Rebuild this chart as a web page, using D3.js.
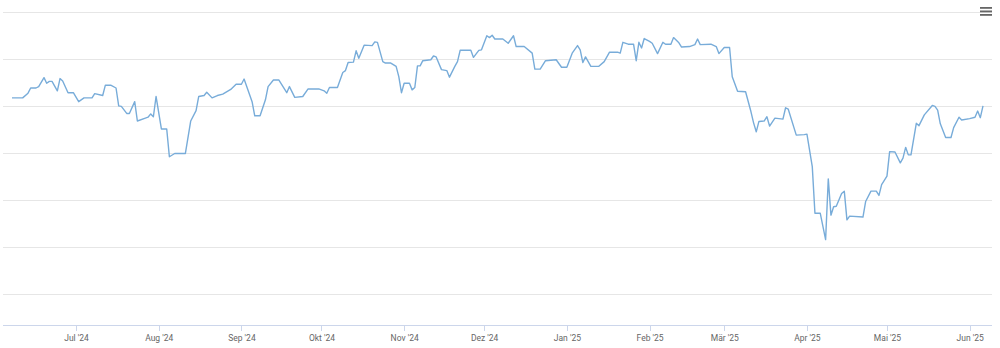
<!DOCTYPE html>
<html>
<head>
<meta charset="utf-8">
<script src="https://cdn.jsdelivr.net/npm/d3@7"></script>
<style>
  html, body { margin: 0; padding: 0; background: #fff; }
  svg { display: block; font-family: Roboto, "Noto Sans", sans-serif; }
</style>
</head>
<body>
<svg id="chart" width="1000" height="348"></svg>
<script>
// ---- data ----
const dates = [
"2024-06-07","2024-06-11","2024-06-13","2024-06-14","2024-06-16","2024-06-17","2024-06-19","2024-06-20","2024-06-21","2024-06-22",
"2024-06-24","2024-06-25","2024-06-26","2024-06-28","2024-06-30","2024-07-02","2024-07-04","2024-07-07","2024-07-08","2024-07-11",
"2024-07-12","2024-07-14","2024-07-16","2024-07-17","2024-07-18","2024-07-20","2024-07-21","2024-07-23","2024-07-24","2024-07-27",
"2024-07-28","2024-07-29","2024-07-30","2024-07-31","2024-08-02","2024-08-04","2024-08-05","2024-08-07","2024-08-11","2024-08-13",
"2024-08-15","2024-08-16","2024-08-18","2024-08-19","2024-08-21","2024-08-23","2024-08-25","2024-08-28","2024-08-30","2024-09-01",
"2024-09-02","2024-09-05","2024-09-06","2024-09-08","2024-09-10","2024-09-11","2024-09-13","2024-09-15","2024-09-18","2024-09-19",
"2024-09-21","2024-09-24","2024-09-26","2024-09-30","2024-10-02","2024-10-03","2024-10-04","2024-10-07","2024-10-09","2024-10-10",
"2024-10-11","2024-10-13","2024-10-14","2024-10-15","2024-10-17","2024-10-20","2024-10-21","2024-10-22","2024-10-24","2024-10-25",
"2024-10-27","2024-10-29","2024-10-30","2024-10-31","2024-11-01","2024-11-03","2024-11-04","2024-11-05","2024-11-06","2024-11-07",
"2024-11-08","2024-11-11","2024-11-12","2024-11-13","2024-11-15","2024-11-17","2024-11-18","2024-11-20","2024-11-21","2024-11-22",
"2024-11-26","2024-11-27","2024-11-29","2024-11-30","2024-12-02","2024-12-03","2024-12-04","2024-12-05","2024-12-08","2024-12-10",
"2024-12-12","2024-12-13","2024-12-16","2024-12-19","2024-12-20","2024-12-22","2024-12-24","2024-12-28","2024-12-30","2025-01-01",
"2025-01-03","2025-01-05","2025-01-06","2025-01-07","2025-01-08","2025-01-10","2025-01-13","2025-01-15","2025-01-17","2025-01-20",
"2025-01-21","2025-01-22","2025-01-24","2025-01-26","2025-01-27","2025-01-28","2025-01-29","2025-01-30","2025-02-01","2025-02-02",
"2025-02-04","2025-02-06","2025-02-07","2025-02-09","2025-02-10","2025-02-12","2025-02-13","2025-02-16","2025-02-18","2025-02-19",
"2025-02-20","2025-02-24","2025-02-26","2025-02-27","2025-03-01","2025-03-03","2025-03-04","2025-03-06","2025-03-09","2025-03-11",
"2025-03-12","2025-03-13","2025-03-14","2025-03-16","2025-03-17","2025-03-18","2025-03-20","2025-03-23","2025-03-24","2025-03-25",
"2025-03-28","2025-03-31","2025-04-01","2025-04-03","2025-04-04","2025-04-06","2025-04-08","2025-04-09","2025-04-10","2025-04-11",
"2025-04-12","2025-04-14","2025-04-15","2025-04-16","2025-04-17","2025-04-22","2025-04-23","2025-04-25","2025-04-27","2025-04-28",
"2025-04-29","2025-05-01","2025-05-02","2025-05-04","2025-05-06","2025-05-07","2025-05-08","2025-05-09","2025-05-10","2025-05-12",
"2025-05-13","2025-05-15","2025-05-18","2025-05-19","2025-05-20","2025-05-21","2025-05-23","2025-05-25","2025-05-26","2025-05-28",
"2025-05-29","2025-06-01","2025-06-03","2025-06-04","2025-06-05","2025-06-06"
];
const values = [
101.7,101.7,102.7,103.8,103.8,104.1,106.0,104.8,105.2,105.2,
103.2,105.8,105.3,102.8,102.8,100.9,101.7,101.7,102.6,102.2,
104.4,104.4,103.8,100.0,99.9,98.4,98.4,100.9,96.8,97.4,
97.6,98.3,97.7,102.0,95.1,95.1,89.2,89.9,89.9,96.8,
99.0,102.0,102.2,102.9,101.7,102.2,102.5,103.5,104.6,104.6,
105.7,100.9,97.9,97.9,101.3,104.1,105.5,105.5,102.8,104.1,
101.8,102.0,103.6,103.6,103.2,102.7,103.9,103.9,107.1,107.5,
109.2,109.3,111.7,110.1,112.9,112.8,113.6,113.5,109.4,109.1,
109.1,108.4,106.2,102.8,104.8,104.8,103.4,103.9,108.5,108.5,
109.6,109.8,110.6,110.4,107.7,107.5,106.1,108.4,109.4,111.8,
111.8,110.3,111.8,111.9,114.9,114.5,115.0,114.2,114.2,113.3,
114.9,112.6,112.6,111.2,107.8,107.8,109.6,109.8,108.2,108.2,
111.2,112.8,111.9,109.2,110.4,108.4,108.4,109.4,111.4,111.4,
111.2,113.5,113.1,113.1,109.6,113.5,112.3,114.3,113.7,113.3,
111.1,113.5,113.1,113.1,114.5,113.4,112.5,112.6,113.0,114.2,
113.0,113.1,112.6,111.1,112.4,112.4,106.2,103.1,103.0,98.8,
96.4,94.5,96.7,96.8,97.7,95.7,97.4,97.2,99.6,99.3,
93.8,93.9,94.0,87.1,77.2,77.2,71.6,84.5,76.8,78.6,
78.7,81.4,81.9,75.8,76.6,76.4,79.7,81.9,81.9,81.0,
83.3,85.1,90.3,90.2,87.9,88.9,91.2,89.6,89.6,96.3,
95.8,98.1,100.1,99.9,99.1,96.2,93.3,93.3,95.4,97.6,
97.0,97.3,97.6,98.9,97.5,100.0
];
const gridValues = [60, 70, 80, 90, 100, 110, 120];
const monthLabels = ["Jan","Feb","Mär","Apr","Mai","Jun","Jul","Aug","Sep","Okt","Nov","Dez"];

// ---- chart ----
const svg = d3.select("#chart");
const plotLeft = 3, plotRight = 992, plotTop = 11.7, axisY = 325;
const parse = d3.utcParse("%Y-%m-%d");
const series = dates.map((d, i) => ({ date: parse(d), value: values[i] }));

const x = d3.scaleUtc()
  .domain(d3.extent(series, d => d.date))
  .range([12, 983]);
const y = d3.scaleLinear()
  .domain([60, 120])
  .range([294.3, plotTop]);

// gridlines
const grid = svg.append("g")
  .attr("transform", `translate(${plotLeft},0)`)
  .call(d3.axisLeft(y).tickValues(gridValues).tickSize(-(plotRight - plotLeft)).tickFormat(""));
grid.select(".domain").remove();
grid.selectAll(".tick line").attr("stroke", "#e6e6e6").attr("stroke-width", 1).attr("shape-rendering", "crispEdges");

// x axis
const months = d3.utcMonth.range(d3.utcMonth.ceil(x.domain()[0]), x.domain()[1]);
const xAxis = svg.append("g")
  .attr("transform", `translate(0,${axisY})`)
  .call(d3.axisBottom(x)
    .tickValues(months)
    .tickSize(6)
    .tickSizeOuter(0)
    .tickPadding(4)
    .tickFormat(d => monthLabels[d.getUTCMonth()] + " '" + String(d.getUTCFullYear()).slice(2)));
xAxis.select(".domain")
  .attr("d", `M${plotLeft},0.5H${plotRight}`)
  .attr("stroke", "#ccd6eb").attr("shape-rendering", "crispEdges");
xAxis.selectAll(".tick line").attr("stroke", "#ccd6eb").attr("shape-rendering", "crispEdges");
xAxis.selectAll(".tick text")
  .attr("fill", "#666666")
  .attr("font-size", "8.5px")
  .attr("font-family", "Roboto, 'Noto Sans', sans-serif");

// line
const line = d3.line()
  .x(d => x(d.date))
  .y(d => y(d.value));
svg.append("path")
  .datum(series)
  .attr("d", line)
  .attr("fill", "none")
  .attr("stroke", "#78acd9")
  .attr("stroke-width", 1.4)
  .attr("stroke-linejoin", "round");

// menu (hamburger) icon
const menu = svg.append("g").attr("transform", "translate(980,7)");
[0, 3.5, 7].forEach(dy => {
  menu.append("rect").attr("x", 0).attr("y", dy).attr("width", 12).attr("height", 1.8)
    .attr("fill", "#666666");
});
</script>
</body>
</html>
